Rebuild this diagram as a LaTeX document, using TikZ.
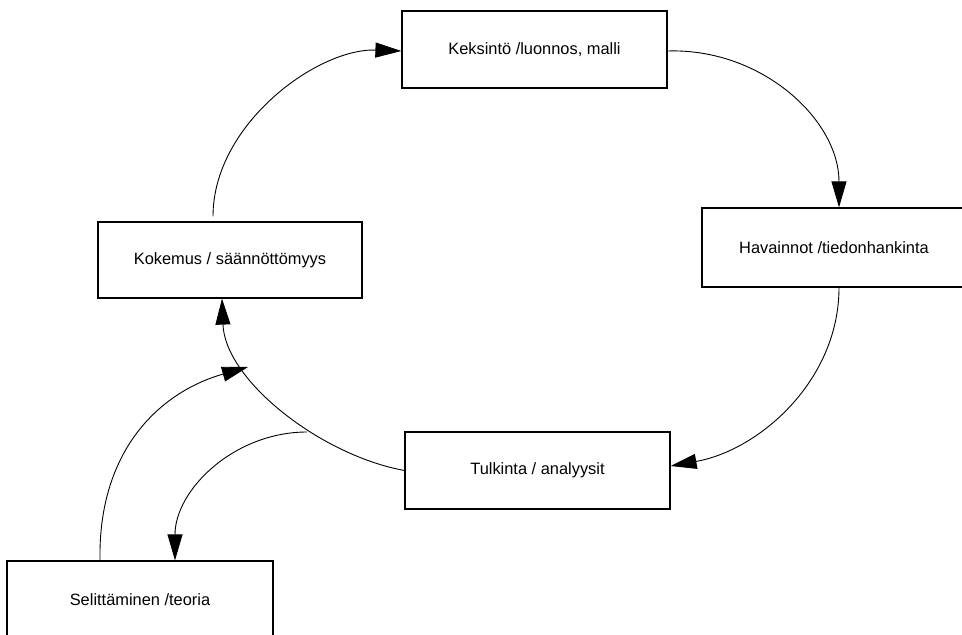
\documentclass[tikz,border=0pt]{standalone}
\usepackage{fontspec}
\setmainfont{Liberation Sans}
\usetikzlibrary{arrows.meta}
\begin{document}
\begin{tikzpicture}[x=1pt,y=-1pt,
  stage/.style={draw=black,line width=1.2pt,fill=white,rectangle,inner sep=0pt,
    minimum width=265pt,minimum height=77pt,
    font=\fontsize{16.4}{19}\selectfont},
  flow/.style={line width=0.9pt,-{Triangle[length=26pt,width=15pt]}},
  plain/.style={line width=0.9pt}]
\useasboundingbox (0,0) rectangle (962,635);

% the five stages of the research cycle
\node[stage] (kek) at (534.5,49.5) {Keksintö /luonnos, malli};
\node[stage,minimum width=264pt,minimum height=79pt] (hav) at (834,247.5) {Havainnot /tiedonhankinta};
\node[stage,minimum width=264pt,minimum height=76pt] (kok) at (230,260) {Kokemus / säännöttömyys};
\node[stage] (tul) at (537.5,470.5) {Tulkinta / analyysit};
\node[stage,minimum width=266pt,minimum height=78pt] (sel) at (140,600) {Selittäminen /teoria};

% points where the side branches meet the main arc
\coordinate (j1) at (248,367);
\coordinate (j2) at (307,432);

% main cycle
\draw[flow,shorten <=5pt] ([xshift=-17pt]kok.north) .. controls (213,124) and (318,48) .. ([yshift=-1.5pt]kek.west);
\draw[flow] ([yshift=-1.5pt]kek.east) .. controls (762,48) and (839,120) .. ([xshift=5pt]hav.north);
\draw[flow] ([xshift=5pt]hav.south) .. controls (839,380) and (760,450) .. ([yshift=4.5pt]tul.east);
\draw[flow] (tul.west) .. controls (320,455) and (225,380) .. ([xshift=-8pt]kok.south);

% branch towards and away from the theory stage
\draw[flow] ([xshift=-40pt]sel.north) .. controls (98,450) and (160,392) .. (j1);
\draw[flow] (j2) .. controls (234,432) and (175,490) .. ([xshift=35pt]sel.north);
\end{tikzpicture}
\end{document}
